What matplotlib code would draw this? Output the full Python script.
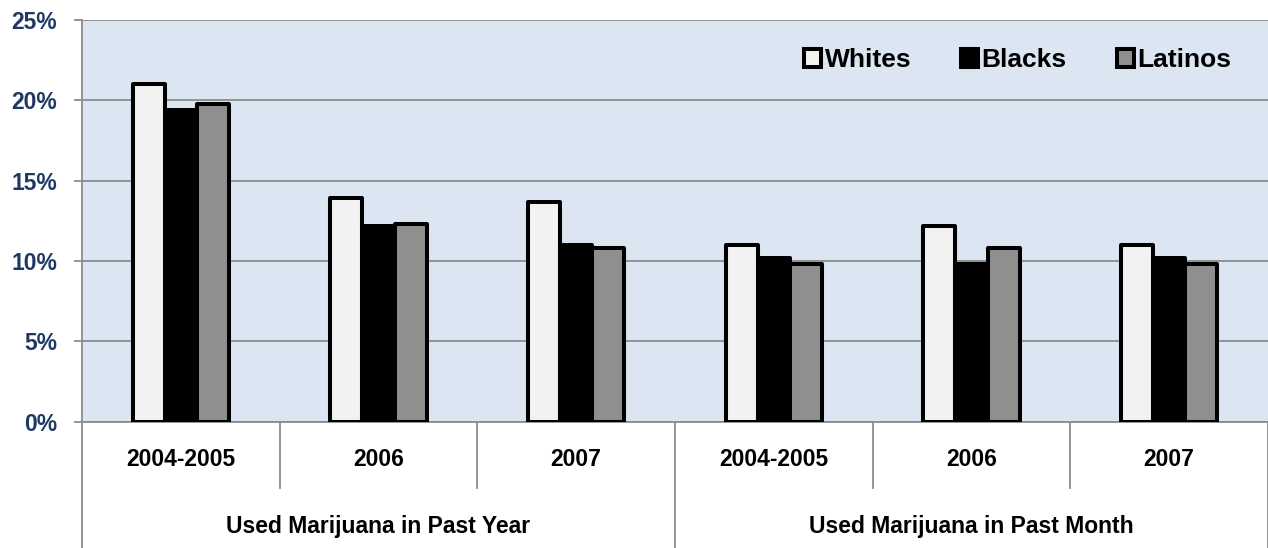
import matplotlib.pyplot as plt
import numpy as np

plt.rcParams['font.family'] = ['Liberation Sans', 'DejaVu Sans']

years = ["2004-2005", "2006", "2007", "2004-2005", "2006", "2007"]
groups = ["Used Marijuana in Past Year", "Used Marijuana in Past Month"]
series = ["Whites", "Blacks", "Latinos"]
whites = [21.0, 13.9, 13.7, 11.0, 12.2, 11.0]
blacks = [19.4, 12.2, 11.0, 10.2, 9.8, 10.2]
latinos = [19.8, 12.3, 10.8, 9.8, 10.8, 9.8]
colors = ["#f2f2f2", "#000000", "#8f8f8f"]

fig = plt.figure(figsize=(12.68, 5.48), dpi=100)
ax = fig.add_axes([82 / 1268, 1 - 421.7 / 548, 1 - 82 / 1268, 401.7 / 548])
ax.set_facecolor("#dce6f2")

x = np.arange(len(years))
w = 0.163
for i, (vals, name, c) in enumerate(zip([whites, blacks, latinos], series, colors)):
    ax.bar(x + (i - 1) * w, vals, w, color=c, edgecolor="black", linewidth=2.9,
           joinstyle="round", label=name, zorder=3)

ax.set_xlim(-0.5, 5.5)
ax.set_ylim(0, 25)
ax.set_yticks(range(0, 26, 5))
ax.set_yticklabels([f"{v}%" for v in range(0, 26, 5)])
ax.yaxis.grid(True, color="#8c8c8c", linewidth=1.3)
ax.set_axisbelow(True)
ax.tick_params(axis="y", length=6, width=1.3, color="#8c8c8c", pad=12,
               labelsize=16.5, labelcolor="#1f3864")
for lab in ax.get_yticklabels():
    lab.set_fontweight("bold")
ax.set_xticks([])

for s in ["top", "right"]:
    ax.spines[s].set_visible(False)
for s in ["left", "bottom"]:
    ax.spines[s].set_color("#8c8c8c")
    ax.spines[s].set_linewidth(1.3)

# two-level category axis below the plot
tr = ax.get_xaxis_transform()
for i, yr in enumerate(years):
    ax.text(i, -0.095, yr, transform=tr, ha="center", va="center",
            fontsize=16.5, fontweight="bold")
for k in range(len(years) + 1):
    xs = k - 0.5
    bottom = -0.32 if k % 3 == 0 else -0.165
    ax.plot([xs, xs], [0, bottom], transform=tr, color="#8c8c8c",
            linewidth=1.3, clip_on=False)
for j, g in enumerate(groups):
    ax.text(j * 3 + 1, -0.261, g, transform=tr, ha="center", va="center",
            fontsize=16.5, fontweight="bold")

ax.legend(loc="center right", bbox_to_anchor=(0.969, 0.90), ncol=3,
          frameon=False, borderpad=0, borderaxespad=0, handlelength=0.65,
          handleheight=0.65, handletextpad=0.12, columnspacing=1.9,
          prop={"size": 19, "weight": "bold"})

fig.savefig("out.png", dpi=100)
